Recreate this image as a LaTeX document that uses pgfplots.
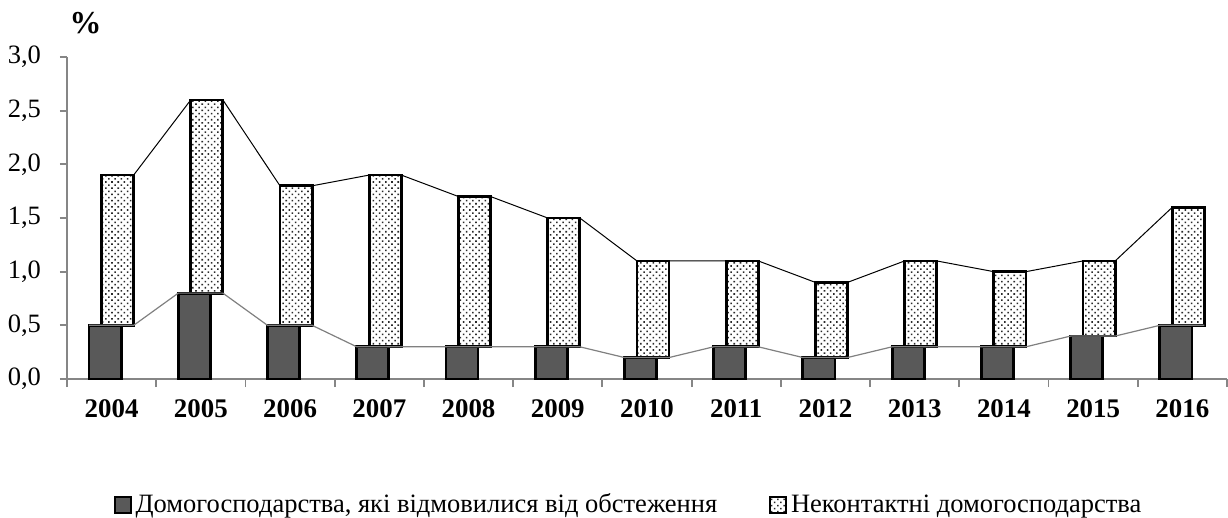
\documentclass[border=0pt]{standalone}
\usepackage{fontspec}
\setmainfont{Liberation Serif}
\usepackage{pgfplots}
\pgfplotsset{compat=1.18}
\usetikzlibrary{patterns.meta}
\definecolor{darkbar}{HTML}{595959}
\definecolor{axisgray}{HTML}{868686}
\definecolor{dotgray}{HTML}{2a2a2a}
\pgfplotsset{sqlegend/.style={legend image code/.code={\draw[##1, line width=0.9bp] (0bp,-4bp) rectangle (8bp,4bp);}}}
\begin{document}
\begin{tikzpicture}[font=\fontsize{13.3}{16}\selectfont]
\begin{axis}[
  name=ax,
  scale only axis, width=580bp, height=161bp,
  xmin=-0.5, xmax=12.5, ymin=0, ymax=3,
  axis x line*=bottom, axis y line*=left,
  axis line style={axisgray, line width=0.9bp},
  ybar stacked,
  clip=false,
  xtick={0,...,12},
  xticklabels={2004,2005,2006,2007,2008,2009,2010,2011,2012,2013,2014,2015,2016},
  xticklabel style={font=\fontsize{13.5}{16}\selectfont\bfseries, yshift=-3.5bp},
  major x tick style={draw=none},
  minor xtick={-0.5,0.5,1.5,2.5,3.5,4.5,5.5,6.5,7.5,8.5,9.5,10.5,11.5,12.5},
  minor tick length=4bp,
  ytick={0,0.5,1,1.5,2,2.5,3},
  /pgf/number format/fixed,
  /pgf/number format/fixed zerofill,
  /pgf/number format/precision=1,
  /pgf/number format/use comma,
  /pgf/number format/assume math mode=true,
  yticklabel style={xshift=-6bp},
  major tick length=3.5bp,
  tick align=outside,
  tick style={axisgray, line width=0.9bp},
  legend columns=2,
  legend style={draw=none, at={(0.485,-0.391)}, anchor=center, inner sep=0pt,
    font=\fontsize{13.3}{16}\selectfont,
    /tikz/every even column/.append style={column sep=24bp}},
  legend cell align=left,
]
\addplot[forget plot, stack plots=false, sharp plot, draw=black, line width=0.5bp, mark=none] coordinates {
(-0.113,1.9)(0.247,1.9)(0.887,2.6)(1.247,2.6)(1.887,1.8)(2.247,1.8)(2.887,1.9)(3.247,1.9)(3.887,1.7)(4.247,1.7)(4.887,1.5)(5.247,1.5)(5.887,1.1)(6.247,1.1)(6.887,1.1)(7.247,1.1)(7.887,0.9)(8.247,0.9)(8.887,1.1)(9.247,1.1)(9.887,1.0)(10.247,1.0)(10.887,1.1)(11.247,1.1)(11.887,1.6)(12.247,1.6)};
\addplot[forget plot, stack plots=false, sharp plot, draw=gray, line width=0.6bp, mark=none] coordinates {
(-0.253,0.5)(0.247,0.5)(0.747,0.8)(1.247,0.8)(1.747,0.5)(2.247,0.5)(2.747,0.3)(3.247,0.3)(3.747,0.3)(4.247,0.3)(4.747,0.3)(5.247,0.3)(5.747,0.2)(6.247,0.2)(6.747,0.3)(7.247,0.3)(7.747,0.2)(8.247,0.2)(8.747,0.3)(9.247,0.3)(9.747,0.3)(10.247,0.3)(10.747,0.4)(11.247,0.4)(11.747,0.5)(12.247,0.5)};
\addplot[fill=darkbar, draw=black, line width=1.4bp, bar width=0.36, bar shift=-0.073, sqlegend] coordinates {
(0,0.5)(1,0.8)(2,0.5)(3,0.3)(4,0.3)(5,0.3)(6,0.2)(7,0.3)(8,0.2)(9,0.3)(10,0.3)(11,0.4)(12,0.5)};
\addlegendentry{Домогосподарства, які відмовилися від обстеження}
\addplot[fill=white, draw=black, line width=1.4bp, bar width=0.36, bar shift=0.067,
  postaction={pattern={Dots[distance=2.2bp, angle=45, radius=0.55bp]}, pattern color=dotgray}, sqlegend] coordinates {
(0,1.4)(1,1.8)(2,1.3)(3,1.6)(4,1.4)(5,1.2)(6,0.9)(7,0.8)(8,0.7)(9,0.8)(10,0.7)(11,0.7)(12,1.1)};
\addlegendentry{Неконтактні домогосподарства}
\node[font=\fontsize{16}{18}\selectfont\bfseries] at (rel axis cs:0.016,1.106) {\%};
\end{axis}
\pgfresetboundingbox
\path[use as bounding box] ([shift={(-33.5bp,-69.5bp)}]ax.south west) rectangle ([shift={(0.5bp,28.5bp)}]ax.north east);
\end{tikzpicture}
\end{document}
